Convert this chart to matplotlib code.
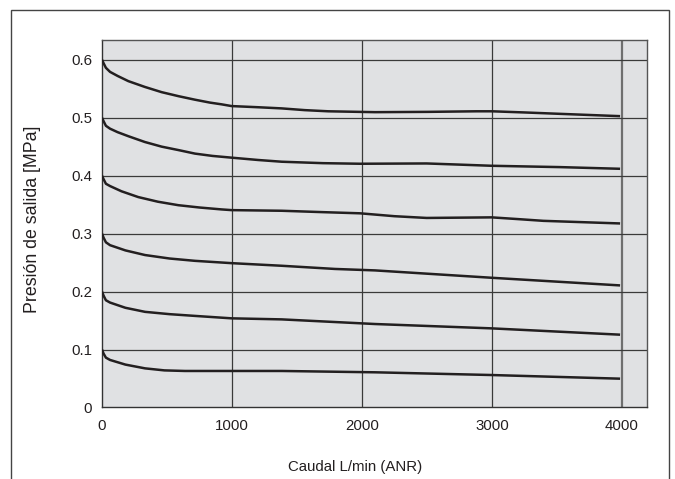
import matplotlib
matplotlib.use("Agg")
import matplotlib.pyplot as plt
from matplotlib.patches import Rectangle

plt.rcParams["font.family"] = ["Liberation Sans", "DejaVu Sans"]

# Caudal (L/min ANR) y presión de salida (MPa) para cada ajuste
caudal_06 = [0, 12, 30, 62, 120, 203, 330, 459, 590, 715, 830, 920, 997, 1200, 1382, 1560, 1740, 2100, 2500, 2882, 3000, 3250, 3523, 3985]
presion_06 = [0.600, 0.594, 0.586, 0.579, 0.572, 0.563, 0.553, 0.544, 0.537, 0.531, 0.526, 0.523, 0.520, 0.518, 0.516, 0.513, 0.511, 0.5095, 0.510, 0.511, 0.511, 0.509, 0.5066, 0.5026]

caudal_05 = [0, 12, 30, 62, 120, 203, 330, 459, 590, 715, 850, 997, 1200, 1382, 1700, 1985, 2497, 2750, 2997, 3523, 3985]
presion_05 = [0.500, 0.494, 0.486, 0.481, 0.475, 0.468, 0.458, 0.450, 0.444, 0.438, 0.434, 0.431, 0.427, 0.424, 0.4215, 0.4205, 0.421, 0.419, 0.417, 0.4147, 0.4118]

caudal_04 = [0, 12, 30, 62, 150, 279, 430, 587, 750, 920, 997, 1382, 1700, 1985, 2250, 2497, 2997, 3200, 3395, 3985]
presion_04 = [0.400, 0.394, 0.386, 0.382, 0.373, 0.363, 0.355, 0.349, 0.345, 0.3417, 0.3405, 0.3394, 0.337, 0.335, 0.330, 0.327, 0.328, 0.325, 0.322, 0.3175]

caudal_03 = [0, 12, 30, 62, 180, 331, 520, 715, 997, 1382, 1792, 2100, 2997, 3985]
presion_03 = [0.300, 0.293, 0.285, 0.280, 0.271, 0.263, 0.257, 0.253, 0.249, 0.2445, 0.239, 0.2365, 0.2238, 0.2106]

caudal_02 = [0, 12, 30, 62, 180, 331, 520, 715, 997, 1382, 2100, 2997, 3985]
presion_02 = [0.200, 0.193, 0.185, 0.181, 0.172, 0.165, 0.161, 0.158, 0.1538, 0.152, 0.144, 0.1365, 0.1256]

caudal_01 = [0, 12, 30, 62, 180, 331, 480, 638, 997, 1382, 2100, 2997, 3985]
presion_01 = [0.100, 0.093, 0.086, 0.082, 0.074, 0.0675, 0.064, 0.063, 0.063, 0.063, 0.0607, 0.056, 0.0497]

curvas = [
    (caudal_06, presion_06),
    (caudal_05, presion_05),
    (caudal_04, presion_04),
    (caudal_03, presion_03),
    (caudal_02, presion_02),
    (caudal_01, presion_01),
]

xticks = [0, 1000, 2000, 3000, 4000]
yticks = [0, 0.1, 0.2, 0.3, 0.4, 0.5, 0.6]
yticklabels = ["0", "0.1", "0.2", "0.3", "0.4", "0.5", "0.6"]

fig = plt.figure(figsize=(6.75, 4.79), dpi=100)
ax = fig.add_axes([0.1511, 0.1493, 0.8074, 0.7672])
ax.set_facecolor("#e0e1e3")

# marco exterior
fig.patches.append(Rectangle((0.0163, -0.02), 0.9748, 0.999, transform=fig.transFigure,
                             fill=False, edgecolor="#444444", linewidth=1.0))

# cuadrícula
for x in xticks[1:4]:
    ax.axvline(x, color="#3a3a3a", linewidth=0.9, zorder=1)
ax.axvline(4000, color="#6f6f6f", linewidth=1.6, zorder=1)
for y in yticks[1:]:
    ax.axhline(y, color="#3a3a3a", linewidth=0.9, zorder=1)

for q, p in curvas:
    ax.plot(q, p, color="#231f20", linewidth=1.8, zorder=3,
            solid_capstyle="butt", solid_joinstyle="round")

ax.set_xlim(0, 4192)
ax.set_ylim(0, 0.634)
ax.set_xticks(xticks)
ax.set_xticklabels([str(v) for v in xticks])
ax.set_yticks(yticks)
ax.set_yticklabels(yticklabels)
ax.tick_params(length=0, labelsize=10.8, colors="#231f20")
ax.tick_params(axis="x", pad=8)
ax.tick_params(axis="y", pad=7)

for s in ["left", "bottom"]:
    ax.spines[s].set_color("#333333")
    ax.spines[s].set_linewidth(1.0)
for s in ["top", "right"]:
    ax.spines[s].set_color("#555555")
    ax.spines[s].set_linewidth(1.0)

ax.set_xlabel("Caudal L/min (ANR)", fontsize=10.8, color="#231f20")
ax.xaxis.set_label_coords(0.464, -0.162)
ax.xaxis.label.set_va("center")
ax.set_ylabel("Presión de salida [MPa]", fontsize=12.8, color="#231f20")
ax.yaxis.set_label_coords(-0.1266, 0.513)
ax.yaxis.label.set_va("center")

fig.savefig("out.png", dpi=100)
